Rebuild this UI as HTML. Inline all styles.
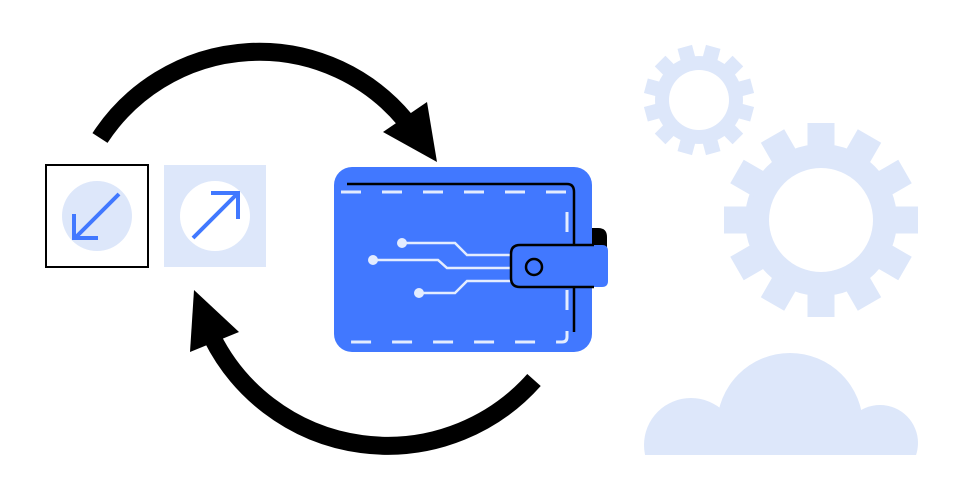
<!DOCTYPE html>
<html><head><style>html,body{margin:0;padding:0;background:#fff;}svg{display:block}</style></head>
<body>
<svg width="960" height="500" viewBox="0 0 960 500" xmlns="http://www.w3.org/2000/svg">
<!-- arcs -->
<path d="M100,138 A190,190 0 0 1 405,120" fill="none" stroke="#000" stroke-width="18"/>
<polygon points="383,132 427,102 437,162" fill="#000"/>
<path d="M534,380 A196,196 0 0 1 212,337" fill="none" stroke="#000" stroke-width="18"/>
<polygon points="194,290 190,352 239,332" fill="#000"/>
<!-- left boxes -->
<rect x="46" y="165" width="102" height="102" fill="#fff" stroke="#000" stroke-width="2"/>
<circle cx="97" cy="216" r="35" fill="#dde7fa"/>
<path d="M119,194 L76,237 M74,214 L74,238 L98,238" fill="none" stroke="#4178ff" stroke-width="4"/>
<rect x="164" y="165" width="102" height="102" fill="#dde7fa"/>
<circle cx="215" cy="216" r="35" fill="#fff"/>
<path d="M193,238 L236,195 M211,193 L238,193 L238,219" fill="none" stroke="#4178ff" stroke-width="4"/>
<!-- wallet -->
<path d="M592,228 L598,228 Q607,228 607,237 L607,250 L592,250 Z" fill="#000"/>
<rect x="334" y="167" width="258" height="185" rx="18" fill="#4178ff"/>
<path d="M347,184 L567,184 Q574,184 574,192 L574,332" fill="none" stroke="#000" stroke-width="2.5"/>
<path d="M341,192 L567,192" fill="none" stroke="#e3ecff" stroke-width="3" stroke-dasharray="20,21"/>
<path d="M567,212 L567,244 M567,290 L567,337 Q567,342 562,342 L345,342" fill="none" stroke="#e3ecff" stroke-width="3" stroke-dasharray="20,21"/>
<g fill="none" stroke="#e3ecff" stroke-width="2.5">
<path d="M402,243 L455,243 L467,255 L511,255"/>
<path d="M373,260 L438,260 L447,268 L511,268"/>
<path d="M419,293 L455,293 L467,281 L511,281"/>
</g>
<g fill="#e3ecff"><circle cx="402" cy="243" r="5"/><circle cx="373" cy="260" r="5"/><circle cx="419" cy="293" r="5"/></g>
<path d="M520,245 L602,245 Q608,245 608,251 L608,281 Q608,287 602,287 L520,287 Q511,287 511,278 L511,254 Q511,245 520,245 Z" fill="#4178ff"/>
<path d="M594,245 L520,245 Q511,245 511,254 L511,278 Q511,287 520,287 L594,287" fill="none" stroke="#000" stroke-width="2.5"/>
<circle cx="534" cy="267" r="8" fill="none" stroke="#000" stroke-width="2.5"/>
<!-- small gear -->
<g fill="#dde7fa">
<circle cx="699" cy="100" r="44"/>
<g transform="translate(699,100)">
<rect x="-7.5" y="-55" width="15" height="20" transform="rotate(15)"/>
<rect x="-7.5" y="-55" width="15" height="20" transform="rotate(45)"/>
<rect x="-7.5" y="-55" width="15" height="20" transform="rotate(75)"/>
<rect x="-7.5" y="-55" width="15" height="20" transform="rotate(105)"/>
<rect x="-7.5" y="-55" width="15" height="20" transform="rotate(135)"/>
<rect x="-7.5" y="-55" width="15" height="20" transform="rotate(165)"/>
<rect x="-7.5" y="-55" width="15" height="20" transform="rotate(195)"/>
<rect x="-7.5" y="-55" width="15" height="20" transform="rotate(225)"/>
<rect x="-7.5" y="-55" width="15" height="20" transform="rotate(255)"/>
<rect x="-7.5" y="-55" width="15" height="20" transform="rotate(285)"/>
<rect x="-7.5" y="-55" width="15" height="20" transform="rotate(315)"/>
<rect x="-7.5" y="-55" width="15" height="20" transform="rotate(345)"/>
</g>
</g>
<circle cx="699" cy="100" r="30" fill="#fff"/>
<!-- big gear -->
<g fill="#dde7fa">
<circle cx="821" cy="220" r="76"/>
<g transform="translate(821,220)">
<rect x="-13.5" y="-97" width="27" height="30" transform="rotate(0)"/>
<rect x="-13.5" y="-97" width="27" height="30" transform="rotate(30)"/>
<rect x="-13.5" y="-97" width="27" height="30" transform="rotate(60)"/>
<rect x="-13.5" y="-97" width="27" height="30" transform="rotate(90)"/>
<rect x="-13.5" y="-97" width="27" height="30" transform="rotate(120)"/>
<rect x="-13.5" y="-97" width="27" height="30" transform="rotate(150)"/>
<rect x="-13.5" y="-97" width="27" height="30" transform="rotate(180)"/>
<rect x="-13.5" y="-97" width="27" height="30" transform="rotate(210)"/>
<rect x="-13.5" y="-97" width="27" height="30" transform="rotate(240)"/>
<rect x="-13.5" y="-97" width="27" height="30" transform="rotate(270)"/>
<rect x="-13.5" y="-97" width="27" height="30" transform="rotate(300)"/>
<rect x="-13.5" y="-97" width="27" height="30" transform="rotate(330)"/>
</g>
</g>
<circle cx="821" cy="220" r="52" fill="#fff"/>
<!-- cloud -->
<clipPath id="cc"><rect x="600" y="300" width="340" height="155"/></clipPath>
<g fill="#dde7fa" clip-path="url(#cc)">
<circle cx="790" cy="426" r="73"/>
<circle cx="691" cy="445" r="47"/>
<circle cx="880" cy="443" r="38"/>
<rect x="691" y="430" width="189" height="30"/>
</g>
</svg>
</body></html>
